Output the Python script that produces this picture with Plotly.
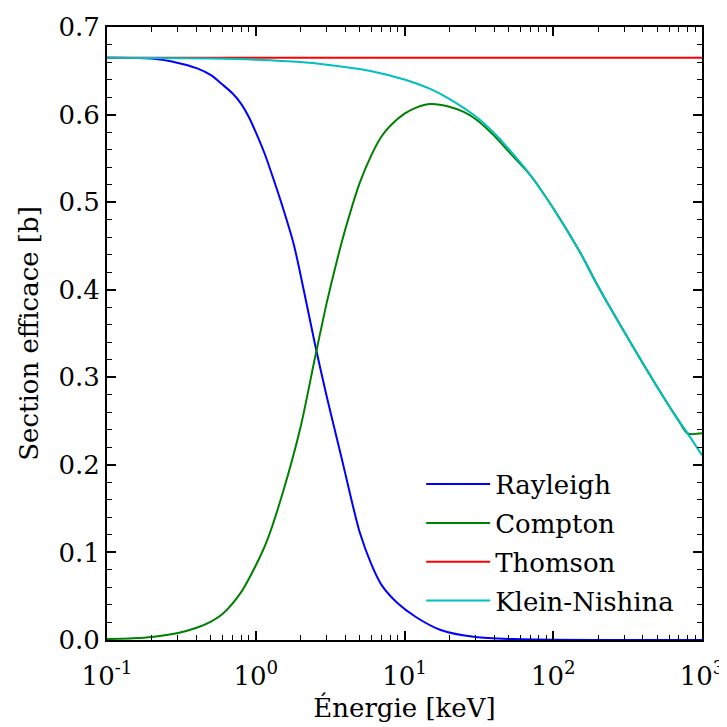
import plotly.graph_objects as go

# Energies [keV]
energy_rayleigh = [0.1, 0.2, 0.3, 0.4, 0.5, 0.6, 0.7, 0.8, 0.9, 1.0, 1.15, 1.3, 1.5, 1.8, 2.1, 2.5, 3.0, 3.5, 4.0,
                   4.5, 5.0, 6.0, 7.0, 9.0, 12, 17.5, 30, 55, 100, 300, 1000]
rayleigh = [0.665, 0.664, 0.659, 0.653, 0.645, 0.634, 0.624, 0.612, 0.597, 0.580, 0.555, 0.529, 0.497, 0.452, 0.400,
            0.338, 0.278, 0.231, 0.190, 0.153, 0.123, 0.086, 0.063, 0.042, 0.026, 0.0114, 0.0033, 0.001, 0.0003,
            0.0001, 0.0]

energy_compton = [0.1, 0.15, 0.2, 0.3, 0.4, 0.5, 0.6, 0.8, 1.0, 1.2, 1.5, 2.0, 2.5, 3.0, 3.5, 4.0, 5.0, 6.0, 7.0,
                  8.0, 10, 12, 15, 20, 25, 30, 40, 50, 70, 100, 150, 200, 300, 500, 700, 800, 1000]
compton = [0.001, 0.002, 0.0035, 0.008, 0.014, 0.021, 0.030, 0.055, 0.085, 0.115, 0.165, 0.243, 0.322, 0.385, 0.432,
           0.469, 0.522, 0.554, 0.575, 0.587, 0.601, 0.608, 0.612, 0.609, 0.603, 0.595, 0.576, 0.558, 0.531, 0.493,
           0.444, 0.404, 0.352, 0.289, 0.250, 0.236, 0.236]

energy_thomson = [0.1, 1000]
thomson = [0.665, 0.665]

energy_kn = [0.1, 0.2, 0.5, 1, 2, 3, 5, 7, 10, 15, 20, 30, 40, 50, 70, 100, 150, 200, 300, 500, 700, 800, 1000]
klein_nishina = [0.665, 0.6647, 0.664, 0.6626, 0.660, 0.657, 0.652, 0.647, 0.640, 0.629, 0.618, 0.598, 0.579, 0.561,
                 0.531, 0.493, 0.444, 0.404, 0.352, 0.289, 0.250, 0.236, 0.211]

x_tick_vals = [0.1, 1, 10, 100, 1000]
x_tick_text = ["10<sup>-1</sup>", "10<sup>0</sup>", "10<sup>1</sup>", "10<sup>2</sup>", "10<sup>3</sup>"]
y_tick_vals = [0.0, 0.1, 0.2, 0.3, 0.4, 0.5, 0.6, 0.7]
y_tick_text = ["0.0", "0.1", "0.2", "0.3", "0.4", "0.5", "0.6", "0.7"]

FONT = "DejaVu Serif"
FS = 26

series = [
    ("Rayleigh", energy_rayleigh, rayleigh, "#0000ff"),
    ("Compton", energy_compton, compton, "#008000"),
    ("Thomson", energy_thomson, thomson, "#ff0000"),
    ("Klein-Nishina", energy_kn, klein_nishina, "#00bfbf"),
]

fig = go.Figure()
for name, xs, ys, col in series:
    fig.add_trace(go.Scatter(x=xs, y=ys, mode="lines", name=name, legendgroup=name,
                             line=dict(color=col, width=2, shape="spline", smoothing=0.8)))

minor_x = [m * 10 ** e for e in range(-1, 3) for m in range(2, 10)]

axis_common = dict(showline=True, linecolor="black", linewidth=2, mirror="ticks", ticks="inside",
                   tickcolor="black", tickwidth=1.5, ticklen=9, showgrid=False, zeroline=False,
                   automargin=False, tickfont=dict(family=FONT, size=FS, color="black"))

fig.update_xaxes(type="log", range=[-1, 3], tickvals=x_tick_vals, ticktext=x_tick_text, ticklabelstandoff=12,
                 minor=dict(tickvals=minor_x, ticks="inside", ticklen=5, tickcolor="black", tickwidth=1.2),
                 title=dict(text="Énergie [keV]", font=dict(family=FONT, size=FS, color="black"), standoff=9),
                 **axis_common)
fig.update_yaxes(range=[0, 0.7], tickvals=y_tick_vals, ticktext=y_tick_text,
                 minor=dict(dtick=0.02, ticks="inside", ticklen=5, tickcolor="black", tickwidth=1.2),
                 title=dict(text="Section efficace [b]", font=dict(family=FONT, size=FS, color="black"), standoff=12),
                 **axis_common)

fig.update_layout(
    width=727, height=727,
    margin=dict(l=99, r=33, t=19, b=95),
    paper_bgcolor="white", plot_bgcolor="white",
    font=dict(family=FONT, color="black"),
    legend=dict(x=0.528, y=0.025, xanchor="left", yanchor="bottom", bgcolor="rgba(0,0,0,0)",
                font=dict(family=FONT, size=FS, color="black"), tracegroupgap=2, traceorder="grouped",
                itemwidth=64),
)

fig.write_html("out.html")
